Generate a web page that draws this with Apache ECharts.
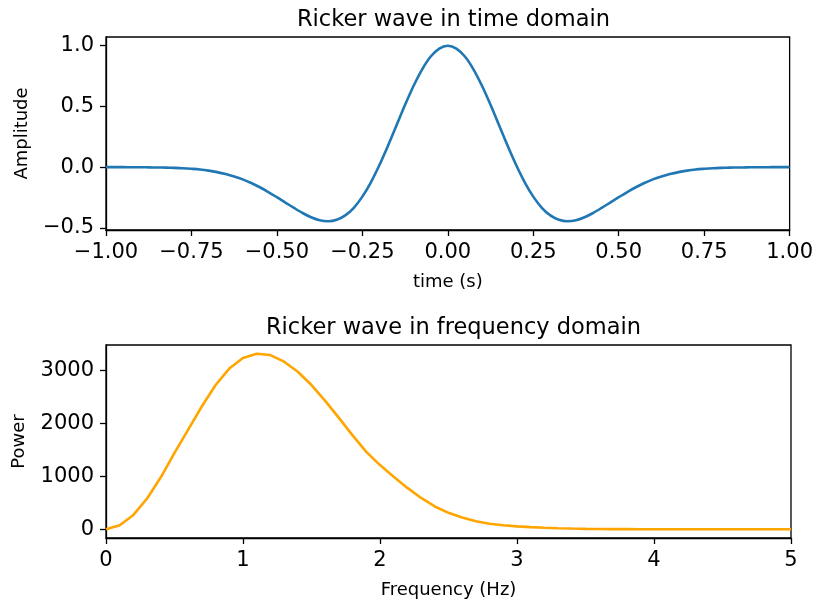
<!DOCTYPE html>
<html>
<head>
<meta charset="utf-8">
<script src="https://cdn.jsdelivr.net/npm/echarts@6/dist/echarts.min.js"></script>
<style>
  html, body { margin: 0; padding: 0; background: #fff; }
  #main { width: 816px; height: 604px; }
</style>
</head>
<body>
<div id="main"></div>
<script>
// time domain samples (s) and amplitude
const timeSec = [-1.000, -0.975, -0.950, -0.925, -0.900, -0.875, -0.850, -0.825, -0.800, -0.775,
  -0.750, -0.725, -0.700, -0.675, -0.650, -0.625, -0.600, -0.575, -0.550, -0.525,
  -0.500, -0.475, -0.450, -0.425, -0.400, -0.375, -0.350, -0.325, -0.300, -0.275,
  -0.250, -0.225, -0.200, -0.175, -0.150, -0.125, -0.100, -0.075, -0.050, -0.025,
  0.000,
  0.025, 0.050, 0.075, 0.100, 0.125, 0.150, 0.175, 0.200, 0.225, 0.250,
  0.275, 0.300, 0.325, 0.350, 0.375, 0.400, 0.425, 0.450, 0.475, 0.500,
  0.525, 0.550, 0.575, 0.600, 0.625, 0.650, 0.675, 0.700, 0.725, 0.750,
  0.775, 0.800, 0.825, 0.850, 0.875, 0.900, 0.925, 0.950, 0.975, 1.000]
const amplitude = [0, 0, 0, -0.001, -0.001, -0.002, -0.003, -0.004, -0.006, -0.009,
  -0.014, -0.020, -0.029, -0.041, -0.057, -0.077, -0.101, -0.131, -0.166, -0.205,
  -0.248, -0.292, -0.336, -0.378, -0.413, -0.438, -0.446, -0.434, -0.398, -0.335,
  -0.243, -0.125, 0.017, 0.176, 0.344, 0.513, 0.670, 0.806, 0.911, 0.977,
  1.000,
  0.977, 0.911, 0.806, 0.670, 0.513, 0.344, 0.176, 0.017, -0.125, -0.243,
  -0.335, -0.398, -0.434, -0.446, -0.438, -0.413, -0.378, -0.336, -0.292, -0.248,
  -0.205, -0.166, -0.131, -0.101, -0.077, -0.057, -0.041, -0.029, -0.020, -0.014,
  -0.009, -0.006, -0.004, -0.003, -0.002, -0.001, -0.001, 0, 0, 0]

// frequency domain samples (Hz) and power
const freqHz = [0.0, 0.1, 0.2, 0.3, 0.4, 0.5, 0.6, 0.7, 0.8, 0.9,
  1.0, 1.1, 1.2, 1.3, 1.4, 1.5, 1.6, 1.7, 1.8, 1.9,
  2.0, 2.1, 2.2, 2.3, 2.4, 2.5, 2.6, 2.7, 2.8, 2.9,
  3.0, 3.1, 3.2, 3.3, 3.4, 3.5, 3.6, 3.7, 3.8, 3.9,
  4.0, 4.1, 4.2, 4.3, 4.4, 4.5, 4.6, 4.7, 4.8, 4.9, 5.0]
const power = [0, 75, 270, 580, 980, 1440, 1880, 2320, 2720, 3030,
  3230, 3310, 3285, 3160, 2970, 2720, 2420, 2100, 1770, 1460,
  1210, 990, 780, 590, 430, 310, 220, 150, 105, 75,
  55, 40, 28, 19, 13, 8, 5, 3, 2, 1,
  0, 0, 0, 0, 0, 0, 0, 0, 0, 0, 0]

// tick values
const ampTicks = [-0.5, 0, 0.5, 1.0]
const powerTicks = [0, 1000, 2000, 3000]

const FONT = 'DejaVu Sans'
const minus = s => String(s).replace('-', '\u2212')

// common axis look, matplotlib style
function axisStyle() {
  return {
    axisLine: { show: true, onZero: false, lineStyle: { color: '#000', width: 1.3 } },
    axisTick: { show: true, inside: false, length: 6, lineStyle: { color: '#000', width: 1.3 } },
    splitLine: { show: false },
    nameTextStyle: { color: '#000', fontFamily: FONT, fontSize: 18 },
    nameLocation: 'middle'
  }
}
function labelStyle(fmt) {
  return { color: '#000', fontFamily: FONT, fontSize: 21, margin: 12, formatter: fmt }
}
const titleText = { color: '#000', fontFamily: FONT, fontSize: 22.5, fontWeight: 'normal' }

const chart = echarts.init(document.getElementById('main'))
const option = {
  animation: false,
  backgroundColor: '#fff',
  title: [
    { text: 'Ricker wave in time domain', left: 448.5, top: 4, textAlign: 'center', textStyle: titleText },
    { text: 'Ricker wave in frequency domain', left: 448.5, top: 312, textAlign: 'center', textStyle: titleText }
  ],
  grid: [
    { left: 106, top: 37, width: 685, height: 193, show: true, borderColor: '#000', borderWidth: 1.3, backgroundColor: 'transparent' },
    { left: 106, top: 345, width: 685, height: 193, show: true, borderColor: '#000', borderWidth: 1.3, backgroundColor: 'transparent' }
  ],
  xAxis: [
    Object.assign(axisStyle(), {
      type: 'value', gridIndex: 0, min: -1, max: 1, interval: 0.25,
      name: 'time (s)', nameGap: 43,
      axisLabel: labelStyle(v => minus(v.toFixed(2)))
    }),
    Object.assign(axisStyle(), {
      type: 'value', gridIndex: 1, min: 0, max: 5, interval: 1,
      name: 'Frequency (Hz)', nameGap: 43,
      axisLabel: labelStyle(v => String(v))
    })
  ],
  yAxis: [
    Object.assign(axisStyle(), {
      type: 'value', gridIndex: 0, min: -0.518, max: 1.072,
      name: 'Amplitude', nameGap: 75, nameRotate: 90,
      axisTick: { show: true, inside: false, length: 6, customValues: ampTicks, lineStyle: { color: '#000', width: 1.3 } },
      axisLabel: Object.assign(labelStyle(v => minus(v.toFixed(1))), { customValues: ampTicks })
    }),
    Object.assign(axisStyle(), {
      type: 'value', gridIndex: 1, min: -165, max: 3475,
      name: 'Power', nameGap: 78, nameRotate: 90,
      axisTick: { show: true, inside: false, length: 6, customValues: powerTicks, lineStyle: { color: '#000', width: 1.3 } },
      axisLabel: Object.assign(labelStyle(v => String(v)), { customValues: powerTicks })
    })
  ],
  series: [{
    type: 'line', xAxisIndex: 0, yAxisIndex: 0,
    data: timeSec.map((t, i) => [t, amplitude[i]]),
    smooth: 0.3, showSymbol: false,
    lineStyle: { color: '#1f77b4', width: 2.6 }
  }, {
    type: 'line', xAxisIndex: 1, yAxisIndex: 1,
    data: freqHz.map((f, i) => [f, power[i]]),
    smooth: false, showSymbol: false,
    lineStyle: { color: '#ffa500', width: 2.6 }
  }]
}
chart.setOption(option)
</script>
</body>
</html>
